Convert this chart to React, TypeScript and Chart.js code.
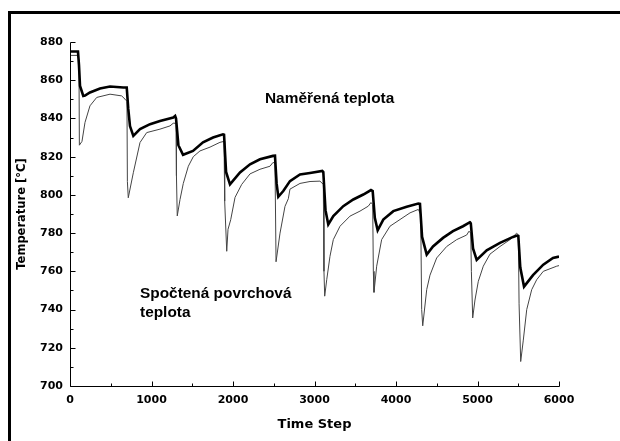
import React, { useEffect, useRef } from "react";
import { Chart, registerables } from "chart.js";

Chart.register(...registerables);

// Measured temperature (thick line)
const MEASURED_T = [0, 98, 110, 123, 163, 184, 245, 368, 491, 654, 696, 715, 736, 777, 859, 982, 1104, 1267, 1290, 1301, 1330, 1387, 1509, 1632, 1755, 1877, 1890, 1915, 1963, 2086, 2209, 2331, 2491, 2515, 2535, 2556, 2617, 2699, 2822, 2945, 3096, 3108, 3135, 3169, 3231, 3353, 3476, 3599, 3693, 3714, 3740, 3775, 3844, 3967, 4131, 4274, 4294, 4320, 4377, 4454, 4577, 4699, 4822, 4908, 4917, 4945, 4990, 5113, 5276, 5436, 5485, 5501, 5525, 5571, 5681, 5807, 5926, 6000];
const MEASURED_V = [875, 875, 868, 857, 851.8, 852, 853.6, 855.7, 856.7, 856.2, 856.2, 845, 836, 830.9, 834.4, 837, 838.7, 840.5, 841.3, 840, 826, 821, 823, 827.5, 830, 831.7, 831.5, 812, 805.5, 811.7, 816, 818.6, 820.4, 820.5, 806, 799, 802, 807.2, 810.7, 811.5, 812.5, 812, 792, 784.5, 788.9, 794.1, 797.6, 800.2, 802.5, 802, 788, 781.5, 787.1, 791.5, 793.8, 795.5, 795.3, 778, 768.8, 773, 777.5, 781, 783.6, 785.7, 785.5, 772, 766, 771, 774.9, 778, 778.7, 778.5, 762, 752, 758, 763.5, 767, 767.7];

// Computed surface temperature (thin line)
const COMPUTED_T = [0, 98, 110, 115, 147, 184, 245, 328, 491, 634, 675, 699, 704, 715, 777, 859, 941, 1104, 1227, 1267, 1301, 1306, 1316, 1350, 1390, 1452, 1513, 1595, 1718, 1840, 1890, 1898, 1923, 1939, 1972, 2025, 2107, 2209, 2331, 2454, 2491, 2515, 2522, 2528, 2577, 2638, 2679, 2699, 2822, 2945, 3067, 3108, 3116, 3125, 3150, 3190, 3231, 3313, 3436, 3558, 3660, 3693, 3714, 3722, 3730, 3763, 3824, 3926, 4049, 4172, 4274, 4303, 4315, 4328, 4377, 4417, 4499, 4622, 4745, 4867, 4896, 4917, 4925, 4941, 4969, 5010, 5071, 5153, 5276, 5399, 5481, 5501, 5510, 5530, 5562, 5604, 5665, 5726, 5807, 5972, 6000];
const COMPUTED_V = [873, 873, 870, 826, 828, 837.9, 846.6, 851, 852.7, 851.8, 850.1, 849, 807, 798.5, 811.6, 827.4, 832.6, 834.4, 836.1, 837.5, 837.5, 810, 789, 797.6, 806, 815, 820, 823, 825, 827.5, 828, 796.7, 770.5, 782, 787, 798.7, 805.5, 811, 813.4, 815, 817, 816.5, 790, 765, 780, 794, 798, 803, 806, 807, 807.2, 805.5, 760, 747, 755.6, 767.9, 776.6, 783.6, 788.9, 791.5, 794.1, 796, 795, 760, 749, 762.7, 776.6, 783.6, 787.1, 790.6, 792.4, 789.8, 740, 731.5, 750.5, 758, 767, 773, 776.6, 779, 781, 780, 760, 735.6, 745, 754.8, 762.7, 769, 773, 776.6, 780, 779, 743, 712.8, 724, 740, 750.4, 755.6, 760, 762.7, 763];

const X_MAJOR_TICKS = [0, 1000, 2000, 3000, 4000, 5000, 6000];
const X_MINOR_TICKS = [500, 1500, 2500, 3500, 4500, 5500];
const Y_MAJOR_TICKS = [700, 720, 740, 760, 780, 800, 820, 840, 860, 880];
const Y_MINOR_TICKS = [710, 730, 750, 770, 790, 810, 830, 850, 870];

const LABEL_MEASURED = "Naměřená teplota";
const LABEL_COMPUTED = ["Spočtená povrchová", "teplota"];
const X_TITLE = "Time Step";
const Y_TITLE = "Temperature [°C]";

const axesPlugin = {
  id: "inwardAxes",
  afterDraw(chart: any) {
    const { ctx } = chart;
    const xs = chart.scales.x;
    const ys = chart.scales.y;
    const x0 = Math.round(xs.getPixelForValue(X_MAJOR_TICKS[0])) + 0.5;
    const x1 = Math.round(xs.getPixelForValue(X_MAJOR_TICKS[X_MAJOR_TICKS.length - 1])) + 0.5;
    const y0 = Math.round(ys.getPixelForValue(Y_MAJOR_TICKS[0])) + 0.5;
    const y1 = Math.round(ys.getPixelForValue(Y_MAJOR_TICKS[Y_MAJOR_TICKS.length - 1])) + 0.5;
    ctx.save();
    ctx.strokeStyle = "#000";
    ctx.lineWidth = 1;
    ctx.beginPath();
    ctx.moveTo(x0, y1);
    ctx.lineTo(x0, y0);
    ctx.lineTo(x1, y0);
    for (const v of Y_MAJOR_TICKS) {
      const p = Math.round(ys.getPixelForValue(v)) + 0.5;
      ctx.moveTo(x0, p);
      ctx.lineTo(x0 + 5, p);
    }
    for (const v of Y_MINOR_TICKS) {
      const p = Math.round(ys.getPixelForValue(v)) + 0.5;
      ctx.moveTo(x0, p);
      ctx.lineTo(x0 + 3, p);
    }
    for (const v of X_MAJOR_TICKS) {
      const p = Math.round(xs.getPixelForValue(v)) + 0.5;
      ctx.moveTo(p, y0);
      ctx.lineTo(p, y0 - 5);
    }
    for (const v of X_MINOR_TICKS) {
      const p = Math.round(xs.getPixelForValue(v)) + 0.5;
      ctx.moveTo(p, y0);
      ctx.lineTo(p, y0 - 3);
    }
    ctx.stroke();

    // annotations
    const a = chart.chartArea;
    ctx.fillStyle = "#000";
    ctx.font = "bold 14px 'Liberation Sans', Arial, sans-serif";
    ctx.textBaseline = "alphabetic";
    ctx.textAlign = "left";
    const drawStretched = (t: string, x: number, y: number) => {
      ctx.save();
      ctx.translate(x, y);
      ctx.scale(1.1, 1);
      ctx.fillText(t, 0, 0);
      ctx.restore();
    };
    drawStretched(LABEL_MEASURED, a.left + 195, a.top + 61);
    drawStretched(LABEL_COMPUTED[0], a.left + 70, a.top + 256);
    drawStretched(LABEL_COMPUTED[1], a.left + 70, a.top + 275);
    ctx.restore();
  },
};

export default function App() {
  const ref = useRef<HTMLCanvasElement | null>(null);
  useEffect(() => {
    if (!ref.current) return;
    const measured = MEASURED_T.map((t, i) => ({ x: t, y: MEASURED_V[i] }));
    const computed = COMPUTED_T.map((t, i) => ({ x: t, y: COMPUTED_V[i] }));
    const tickFont = { family: "'DejaVu Sans', sans-serif", weight: "bold" as const, size: 11 };
    const chart = new Chart(ref.current, {
      type: "line",
      data: {
        datasets: [
          {
            label: "Naměřená teplota",
            data: measured,
            borderColor: "#000",
            borderWidth: 2.6,
            pointRadius: 0,
            tension: 0,
            fill: false,
          },
          {
            label: "Spočtená povrchová teplota",
            data: computed,
            borderColor: "#444",
            borderWidth: 1,
            pointRadius: 0,
            tension: 0,
            fill: false,
          },
        ],
      },
      options: {
        animation: false,
        responsive: false,
        devicePixelRatio: 1,
        layout: { padding: { left: 0, top: 28, right: 61, bottom: 0 } },
        plugins: { legend: { display: false }, tooltip: { enabled: false } },
        scales: {
          x: {
            type: "linear",
            min: 0,
            max: 6000,
            grid: { display: false, drawTicks: false },
            border: { display: false },
            ticks: {
              stepSize: 1000,
              color: "#000",
              font: tickFont,
              padding: 8,
              maxRotation: 0,
              callback: (v: any) => String(v),
            },
            title: {
              display: true,
              text: X_TITLE,
              color: "#000",
              font: { family: "'DejaVu Sans', sans-serif", weight: "bold", size: 13 },
              padding: { top: 0, bottom: 9 },
            },
            afterFit: (s: any) => {
              s.height = 55;
            },
          },
          y: {
            type: "linear",
            min: 700,
            max: 880,
            grid: { display: false, drawTicks: false },
            border: { display: false },
            ticks: { stepSize: 20, color: "#000", font: tickFont, padding: 7, callback: (v: any) => String(v) },
            title: {
              display: true,
              text: Y_TITLE,
              color: "#000",
              font: { family: "'DejaVu Sans', sans-serif", weight: "bold", size: 11.5 },
              padding: { top: 4, bottom: 0 },
            },
            afterFit: (s: any) => {
              s.width = 59;
            },
          },
        },
      },
      plugins: [axesPlugin],
    });
    return () => chart.destroy();
  }, []);

  return (
    <div
      style={{
        position: "fixed",
        left: 8,
        top: 11,
        width: 609,
        height: 430,
        borderTop: "3px solid #000",
        borderLeft: "3px solid #000",
        background: "#fff",
      }}
    >
      <canvas ref={ref} width={609} height={427} style={{ display: "block" }} />
    </div>
  );
}
